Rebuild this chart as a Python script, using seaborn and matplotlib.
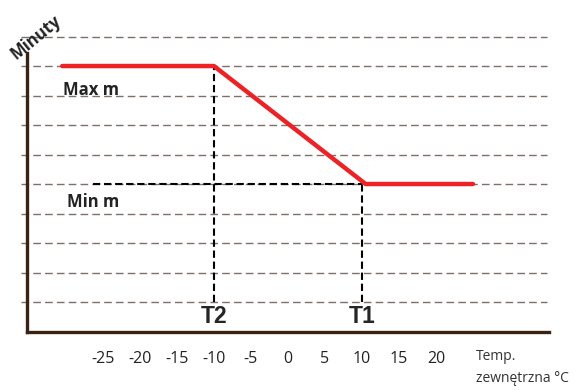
import seaborn as sns
import pandas as pd
import matplotlib.pyplot as plt

# curve: minutes vs outside temperature
temp = [-30.5, -10, 10.5, 25]
minutes = [9, 9, 5, 5]

t2, t1 = -10, 10
max_m, min_m = 9, 5
grid_levels = [1, 2, 3, 4, 5, 6, 7, 8, 9, 10]
tick_values = list(range(-35, 40, 5))
tick_labels = ['', '', '-25', '-20', '-15', '-10', '-5', '0', '5', '10', '15', '20', '', '', '']

sns.set_style('white')
plt.rcParams['font.family'] = ['Open Sans', 'DejaVu Sans']

fig = plt.figure(figsize=(5.85, 3.9), dpi=100)
ax = fig.add_axes([0.0342, 0.15, 0.9094, 0.779])

# dashed background lines
ax.hlines(grid_levels, -36, 35, colors='#7b706a', linestyles=(0, (5.5, 3)), lw=1.0, zorder=1)

# black guide lines for T1 / T2
ax.plot([t2, t2], [1, max_m], color='black', ls=(0, (3.5, 1.8)), lw=1.5, zorder=2)
ax.plot([t1, t1], [1, min_m], color='black', ls=(0, (3.5, 1.8)), lw=1.5, zorder=2)
ax.plot([-26.3, t1], [min_m, min_m], color='black', ls=(0, (3.5, 1.8)), lw=1.5, zorder=2)

df = pd.DataFrame({'temp': temp, 'minutes': minutes})
sns.lineplot(data=df, x='temp', y='minutes', color='#ec2227', lw=3.2, ax=ax, zorder=3,
             solid_joinstyle='round')

ax.set_xlim(-36.2, 35.68)
ax.set_ylim(0, 10.3)

for s in ['top', 'right']:
    ax.spines[s].set_visible(False)
ax.spines['left'].set_position(('data', -35.3))
ax.spines['left'].set_bounds(0, 9.45)
ax.spines['bottom'].set_bounds(-35.3, 35.3)
for s in ['left', 'bottom']:
    ax.spines[s].set_color('#3b2314')
    ax.spines[s].set_linewidth(2.4)

ax.set_xticks(tick_values)
ax.set_xticklabels(tick_labels, fontsize=11.5, color='#222222')
ax.tick_params(axis='x', direction='out', length=4, width=1.2, color='#3b2314', pad=10)
ax.set_yticks([])
ax.set_xlabel('')
ax.set_ylabel('')

ax.text(t2, 0.5, 'T2', ha='center', va='center', fontsize=16.5, fontweight='bold',
        family='Liberation Sans')
ax.text(t1, 0.5, 'T1', ha='center', va='center', fontsize=16.5, fontweight='bold',
        family='Liberation Sans')
ax.text(-30.4, 8.2, 'Max m', ha='left', va='center', fontsize=12, fontweight='bold', color='#222222')
ax.text(-29.9, 4.4, 'Min m', ha='left', va='center', fontsize=12, fontweight='bold', color='#222222')

fig.text(36 / 585, 1 - 37 / 390, 'Minuty', rotation=39, ha='center', va='center',
         fontsize=12, fontweight='bold', color='#222222')
fig.text(476 / 585, 1 - 356 / 390, 'Temp.', ha='left', va='center', fontsize=10, color='#333333')
fig.text(476 / 585, 1 - 378 / 390, 'zewnętrzna °C', ha='left', va='center', fontsize=10, color='#333333')

plt.savefig('out.png', dpi=100)
